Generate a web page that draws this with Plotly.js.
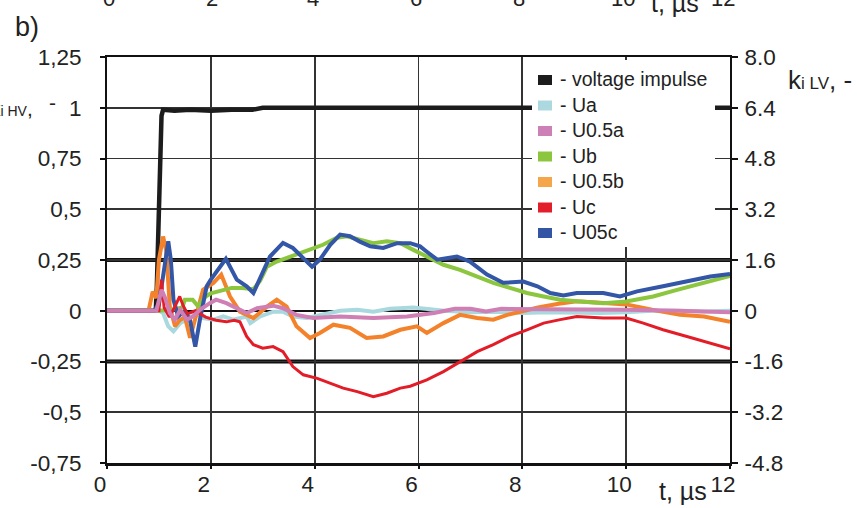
<!DOCTYPE html>
<html>
<head>
<meta charset="utf-8">
<script src="https://cdn.plot.ly/plotly-3.0.1.min.js"></script>
<style>html,body{margin:0;padding:0;background:#fff;}#chart{width:857px;height:508px;}</style>
</head>
<body>
<div id="chart"></div>
<script>
// ---------- DATA ----------
const seriesNames = ['voltage impulse', 'Ua', 'U0.5a', 'Ub', 'U0.5b', 'Uc', 'U05c'];

// voltage impulse, left axis (k_i HV)
const tVolt = [0, 0.94, 0.96, 0.98, 1.0, 1.02, 1.05, 1.08, 1.3, 1.6, 2.0, 2.4, 2.8, 3.0, 12];
const volt  = [0, 0, 0.12, 0.3, 0.55, 0.8, 0.96, 0.99, 0.985, 0.99, 0.985, 0.99, 0.99, 1.0, 1.0];

// LV curves, right axis (k_i LV)
const tUa = [0, 1.0, 1.08, 1.18, 1.28, 1.41, 1.54, 1.73, 1.85, 2.05, 2.24, 2.43, 2.69, 2.76, 2.95, 3.2, 3.39, 3.58, 3.85, 4.16, 4.49, 4.82, 5.13, 5.45, 5.9, 6.5, 7.0, 7.5, 8.0, 8.5, 9.0, 9.5, 10.0, 10.5, 11.0, 11.5, 12];
const Ua  = [0, 0, -0.07, -0.49, -0.65, -0.39, -0.28, -0.07, -0.23, -0.28, -0.18, -0.28, -0.18, -0.39, -0.18, -0.03, -0.03, -0.18, -0.23, -0.13, 0.0, 0.03, -0.03, 0.06, 0.1, 0.0, -0.05, -0.03, -0.07, -0.05, -0.07, -0.07, -0.05, 0.0, 0.0, -0.02, 0.0];

const tU05a = [0, 0.95, 1.05, 1.12, 1.21, 1.31, 1.41, 1.54, 1.66, 1.79, 1.98, 2.1, 2.3, 2.5, 2.69, 2.89, 3.2, 3.39, 3.65, 3.97, 4.49, 5.13, 5.78, 6.3, 6.7, 7.0, 7.3, 7.6, 8.0, 9.0, 10.0, 11.0, 12];
const U05a  = [0, 0, 0.66, 0.4, -0.07, -0.28, 0.03, -0.28, -0.18, 0.03, 0.24, 0.35, 0.24, 0.08, -0.07, 0.08, 0.16, 0.08, -0.13, -0.23, -0.18, -0.23, -0.18, -0.07, 0.06, 0.06, -0.02, 0.06, 0.06, 0.06, 0.03, 0.0, -0.05];

const tUb = [0, 1.0, 1.3, 1.45, 1.5, 1.65, 1.75, 1.9, 2.0, 2.2, 2.4, 2.6, 2.82, 2.95, 3.08, 3.27, 3.53, 3.85, 4.16, 4.43, 4.62, 4.87, 5.13, 5.39, 5.65, 5.9, 6.16, 6.48, 6.8, 7.13, 7.44, 7.76, 8.09, 8.41, 8.73, 9.05, 9.56, 10.0, 10.52, 10.98, 11.48, 12];
const Ub  = [0, 0, 0.05, 0.1, 0.35, 0.35, 0.15, 0.45, 0.55, 0.62, 0.72, 0.72, 0.68, 0.95, 1.39, 1.55, 1.71, 1.92, 2.08, 2.3, 2.35, 2.24, 2.13, 2.19, 2.13, 1.92, 1.71, 1.45, 1.29, 1.08, 0.88, 0.72, 0.56, 0.45, 0.35, 0.3, 0.24, 0.29, 0.45, 0.66, 0.88, 1.1];

const tU05b = [0, 0.8, 0.88, 0.95, 1.0, 1.08, 1.14, 1.21, 1.31, 1.4, 1.5, 1.6, 1.73, 1.85, 2.05, 2.2, 2.37, 2.56, 2.82, 3.08, 3.27, 3.46, 3.65, 3.91, 4.1, 4.36, 4.68, 5.0, 5.32, 5.65, 5.97, 6.16, 6.48, 6.8, 7.13, 7.44, 7.71, 7.9, 8.3, 8.7, 9.05, 9.5, 10.0, 10.5, 11.04, 11.5, 12];
const U05b  = [0, 0, 0.6, 0.4, 1.6, 2.34, 1.9, 0.13, -0.49, -0.3, -0.2, -0.85, -0.07, 0.66, 0.88, 1.14, 0.45, -0.03, -0.23, 0.13, 0.35, 0.13, -0.49, -0.86, -0.7, -0.44, -0.54, -0.86, -0.81, -0.6, -0.49, -0.7, -0.39, -0.13, -0.23, -0.28, -0.13, -0.05, 0.1, 0.22, 0.3, 0.25, 0.2, 0.03, -0.13, -0.18, -0.35];

const tUc = [0, 1.0, 1.05, 1.1, 1.2, 1.3, 1.4, 1.47, 1.55, 1.7, 1.9, 2.1, 2.3, 2.45, 2.56, 2.69, 2.82, 3.0, 3.2, 3.39, 3.58, 3.78, 4.05, 4.3, 4.55, 4.82, 5.13, 5.39, 5.65, 5.84, 6.16, 6.48, 6.8, 7.13, 7.44, 7.76, 8.09, 8.41, 8.73, 9.05, 9.56, 10.0, 10.33, 10.71, 11.17, 11.62, 12];
const Uc  = [0, 0, 0.98, 0.1, -0.2, 0.1, 0.45, 0.15, -0.1, 0.0, -0.2, -0.3, -0.35, -0.3, -0.35, -0.81, -1.07, -1.18, -1.13, -1.29, -1.76, -2.02, -2.13, -2.29, -2.44, -2.55, -2.71, -2.6, -2.44, -2.38, -2.18, -1.92, -1.61, -1.29, -1.07, -0.81, -0.6, -0.39, -0.28, -0.18, -0.23, -0.23, -0.39, -0.6, -0.81, -1.02, -1.2];

const tU05c = [0, 0.9, 1.0, 1.1, 1.18, 1.23, 1.28, 1.37, 1.5, 1.6, 1.7, 1.79, 1.92, 2.0, 2.1, 2.29, 2.5, 2.69, 2.82, 2.95, 3.14, 3.39, 3.58, 3.78, 3.95, 4.1, 4.3, 4.49, 4.68, 4.87, 5.07, 5.32, 5.59, 5.84, 6.03, 6.16, 6.36, 6.74, 6.99, 7.32, 7.63, 8.02, 8.29, 8.54, 8.79, 9.05, 9.56, 9.88, 10.21, 10.71, 11.17, 11.62, 12];
const U05c  = [0, 0, 0.2, 1.2, 2.19, 1.6, 0.35, -0.18, 0.0, -0.3, -1.13, -0.28, 0.77, 0.98, 1.19, 1.64, 0.98, 0.77, 0.56, 1.03, 1.71, 2.14, 1.98, 1.66, 1.39, 1.61, 2.08, 2.4, 2.35, 2.18, 2.03, 1.98, 2.13, 2.13, 2.03, 1.86, 1.61, 1.71, 1.55, 1.14, 0.88, 0.92, 0.77, 0.56, 0.48, 0.56, 0.56, 0.45, 0.61, 0.77, 0.92, 1.08, 1.16];

// axis ticks
const xTicks = [0, 2, 4, 6, 8, 10, 12];
const xTickText = ['0', '2', '4', '6', '8', '10', '12'];
const yLeftTicks = [-0.75, -0.5, -0.25, 0, 0.25, 0.5, 0.75, 1, 1.25];
const yLeftText = ['-0,75', '-0,5', '-0,25', '0', '0,25', '0,5', '0,75', '1', '1,25'];
const yRightTicks = [-4.8, -3.2, -1.6, 0, 1.6, 3.2, 4.8, 6.4, 8.0];
const yRightText = ['-4.8', '-3.2', '-1.6', '0', '1.6', '3.2', '4.8', '6.4', '8.0'];
const topTickText = ['0', '2', '4', '6', '8', '10', '12'];

// ---------- STYLE ----------
const FONT = '"Liberation Sans", Arial, sans-serif';
const lineColors = ['#1c1c1c', '#a9d8de', '#cf7fb4', '#8cc63f', '#f4822b', '#e31d28', '#3356a6'];
const legendColors = ['#1c1c1c', '#acd9df', '#cc80b6', '#8cc63f', '#f6a64a', '#e21e2a', '#3455a4'];
const lineWidths = [4.5, 4, 4, 4, 4, 3, 4];

const W = 857, H = 508, ML = 107, MR = 127, MT = 57, MB = 45;
const PW = W - ML - MR, PH = H - MT - MB;
const px2x = p => (p - ML) / PW;
const py2y = p => (H - MB - p) / PH;

const seriesT = [tVolt, tUa, tU05a, tUb, tU05b, tUc, tU05c];
const seriesY = [volt, Ua, U05a, Ub, U05b, Uc, U05c];
const drawOrder = [0, 1, 4, 3, 6, 5, 2];

const traces = drawOrder.map(i => ({
  type: 'scatter', mode: 'lines', name: seriesNames[i],
  x: seriesT[i], y: seriesY[i],
  yaxis: i === 0 ? 'y' : 'y2',
  line: {color: lineColors[i], width: lineWidths[i]},
  showlegend: false, hoverinfo: 'skip'
}));

const shapes = [
  // thick horizontal grid lines
  {type: 'line', xref: 'paper', yref: 'y', x0: 0, x1: 1, y0: 0.25, y1: 0.25, line: {color: '#111', width: 4}, layer: 'below'},
  {type: 'line', xref: 'paper', yref: 'y', x0: 0, x1: 1, y0: -0.25, y1: -0.25, line: {color: '#111', width: 4}, layer: 'below'},
  // legend background
  {type: 'rect', xref: 'paper', yref: 'paper', x0: px2x(532), x1: px2x(715), y0: py2y(247), y1: py2y(60),
   fillcolor: '#ffffff', line: {width: 0}, layer: 'above'}
];
const annotations = [];
seriesNames.forEach((n, i) => {
  const cy = 80 + 25.5 * i;
  shapes.push({type: 'rect', xref: 'paper', yref: 'paper', x0: px2x(538), x1: px2x(552),
    y0: py2y(cy + 5), y1: py2y(cy - 5), fillcolor: legendColors[i], line: {width: 0}, layer: 'above'});
  annotations.push({xref: 'paper', yref: 'paper', x: px2x(558), y: py2y(cy - 1), xanchor: 'left', yanchor: 'middle',
    text: '- ' + n, showarrow: false, font: {family: FONT, size: 19.5, color: '#222'}});
});

// panel label and axis titles
annotations.push({xref: 'paper', yref: 'paper', x: px2x(27), y: py2y(27), xanchor: 'center', yanchor: 'middle',
  text: 'b)', showarrow: false, font: {family: FONT, size: 27, color: '#222'}});
annotations.push({xref: 'paper', yref: 'paper', x: px2x(35), y: py2y(109), xanchor: 'right', yanchor: 'middle',
  text: 'k<span style="font-size:14px">i HV</span>,', showarrow: false, font: {family: FONT, size: 21, color: '#222'}});
annotations.push({xref: 'paper', yref: 'paper', x: px2x(52), y: py2y(103), xanchor: 'center', yanchor: 'middle',
  text: '-', showarrow: false, font: {family: FONT, size: 21, color: '#222'}});
annotations.push({xref: 'paper', yref: 'paper', x: px2x(786), y: py2y(80), xanchor: 'left', yanchor: 'middle',
  text: 'k<span style="font-size:17px">i LV</span>, -', showarrow: false, font: {family: FONT, size: 26, color: '#222'}});
annotations.push({xref: 'paper', yref: 'paper', x: px2x(683), y: py2y(491), xanchor: 'center', yanchor: 'middle',
  text: 't, µs', showarrow: false, font: {family: FONT, size: 25, color: '#222'}});
// cut-off tick labels of the panel above
const topPx = [109, 212, 313, 416, 519, 623, 723];
topTickText.forEach((s, i) => annotations.push({xref: 'paper', yref: 'paper', x: px2x(topPx[i]), y: py2y(-2),
  xanchor: 'center', yanchor: 'middle', text: s, showarrow: false, font: {family: FONT, size: 22, color: '#222'}}));
annotations.push({xref: 'paper', yref: 'paper', x: px2x(675), y: py2y(3), xanchor: 'center', yanchor: 'middle',
  text: 't, µs', showarrow: false, font: {family: FONT, size: 25, color: '#222'}});

const tickFont = {family: FONT, size: 22.5, color: '#222'};
const layout = {
  width: W, height: H,
  margin: {l: ML, r: MR, t: MT, b: MB, pad: 0},
  paper_bgcolor: '#fff', plot_bgcolor: '#fff',
  showlegend: false,
  xaxis: {range: [0, 12], tickvals: xTicks, ticktext: xTickText, tickfont: tickFont,
    showgrid: true, gridcolor: '#333', gridwidth: 1.8, zeroline: false,
    showline: true, mirror: true, linecolor: '#111', linewidth: 2.5,
    ticks: 'outside', ticklen: 3, tickwidth: 2, tickcolor: '#111',
    ticklabelshift: -7, ticklabelstandoff: -4, fixedrange: true},
  yaxis: {range: [-0.75, 1.25], tickvals: yLeftTicks, ticktext: yLeftText, tickfont: tickFont,
    showgrid: true, gridcolor: '#333', gridwidth: 1.8,
    zeroline: true, zerolinecolor: '#111', zerolinewidth: 2.5,
    showline: true, linecolor: '#111', linewidth: 2,
    ticks: 'outside', ticklen: 5, tickwidth: 2, tickcolor: '#111',
    ticklabelstandoff: 14, fixedrange: true},
  yaxis2: {range: [-4.8, 8.0], tickvals: yRightTicks, ticktext: yRightText, tickfont: tickFont,
    overlaying: 'y', side: 'right', showgrid: false, zeroline: false,
    showline: true, linecolor: '#111', linewidth: 2,
    ticks: 'outside', ticklen: 6, tickwidth: 2, tickcolor: '#111',
    ticklabelstandoff: 2, fixedrange: true},
  shapes: shapes,
  annotations: annotations
};

Plotly.newPlot('chart', traces, layout, {staticPlot: true, displayModeBar: false});
</script>
</body>
</html>
